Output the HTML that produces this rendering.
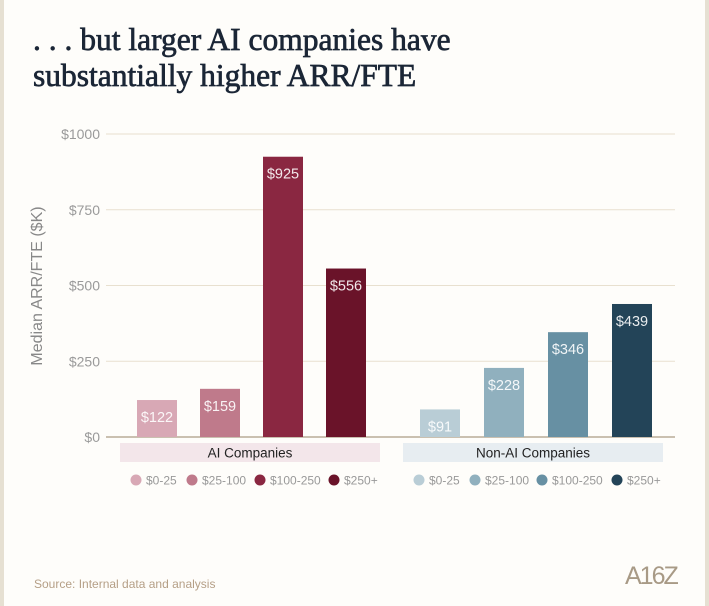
<!DOCTYPE html>
<html><head><meta charset="utf-8"><style>
body{margin:0;background:#fff}
#wrap{position:relative;width:709px;height:606px;background:#fefdfa;border-left:4px solid #e6e0d2;border-right:4px solid #e6e0d2;box-sizing:border-box;font-family:"Liberation Sans",sans-serif;overflow:hidden}
h1{position:absolute;left:29px;top:22px;margin:0;font-family:"Liberation Serif",serif;font-weight:normal;-webkit-text-stroke:0.7px #1b2636;font-size:31.5px;line-height:36px;color:#1b2636}
.src{position:absolute;left:30px;top:577px;font-size:12px;color:#b59f86}
.logo{position:absolute;left:621px;top:562px;font-family:"Liberation Sans",sans-serif;font-size:25px;color:#a89a86;letter-spacing:-2px}
</style></head><body>
<div id="wrap">
<h1>. . . but larger AI companies have<br>substantially higher ARR/FTE</h1>
<svg id="chart" width="709" height="606" style="position:absolute;left:-4px;top:0"></svg>
<div class="src">Source: Internal data and analysis</div>
<div class="logo">A16Z</div>
</div>
<script>
const groups=["AI Companies","Non-AI Companies"];
const sizes=["$0-25","$25-100","$100-250","$250+"];
const aiValues=[122,159,925,556];
const nonAiValues=[91,228,346,439];
const ticks=[0,250,500,750,1000];
const tickLabels=["$0","$250","$500","$750","$1000"];
const aiColors=["#d8a8b5","#bf7a8b","#8a2741","#6a1329"];
const nonColors=["#b9cdd6","#90b0be","#6790a3","#234458"];
const NS="http://www.w3.org/2000/svg";
const svg=document.getElementById('chart');
function mk(t,a,txt){const e=document.createElementNS(NS,t);for(const k in a)e.setAttribute(k,a[k]);if(txt!==undefined)e.textContent=txt;svg.appendChild(e);return e;}
const y0=437,y1=134,xL=106,xR=675;
const y=v=>y0-(v/1000)*(y0-y1);
ticks.forEach((t,i)=>{
  const l=mk('line',{x1:xL,x2:xR,y1:y(t),y2:y(t),stroke:t===0?'#b8ab98':'#e8e0cf','stroke-width':t===0?1.5:1});
  
  
  const tx=mk('text',{x:100,y:y(t)+5,'text-anchor':'end','font-size':14,fill:'#9a9a9a','font-family':'Liberation Sans'},tickLabels[i]);
  
  
});
const yt=mk('text',{x:0,y:0,transform:'translate(42,286) rotate(-90)','text-anchor':'middle','font-size':16,fill:'#888','font-family':'Liberation Sans'},'Median ARR/FTE ($K)');


const groupStart=[137,420],step=[63,64],bw=40;
const bands=[[120,380,'#f3e6ea'],[403,663,'#e7edf1']];
[aiValues,nonAiValues].forEach((vals,g)=>{
  const cols=g===0?aiColors:nonColors;
  vals.forEach((v,i)=>{
    const x=groupStart[g]+i*step[g];
    const r=mk('rect',{x:x,y:y(v),width:bw,height:y0-y(v),fill:cols[i]});
    
    
    const t=mk('text',{x:x+bw/2,y:y(v)+22,'text-anchor':'middle','font-size':14.5,fill:'#fff','fill-opacity':0.9,'font-family':'Liberation Sans'},'$'+v);
    
    
  });
  const b=bands[g];
  const br=mk('rect',{x:b[0],y:443,width:b[1]-b[0],height:19,fill:b[2]});
  
  
  const bt=mk('text',{x:(b[0]+b[1])/2,y:457.5,'text-anchor':'middle','font-size':13.5,fill:'#222','font-family':'Liberation Sans'},groups[g]);
  
  
  const lx=g===0?[136,192,260,334]:[419,475,542,617];
  sizes.forEach((s,i)=>{
    const c=mk('circle',{cx:lx[i],cy:480,r:5.5,fill:cols[i]});
    
    
    const lt=mk('text',{x:lx[i]+10,y:484.5,'font-size':12,fill:'#999','font-family':'Liberation Sans'},s);
    
    
  });
});
</script>
</body></html>
